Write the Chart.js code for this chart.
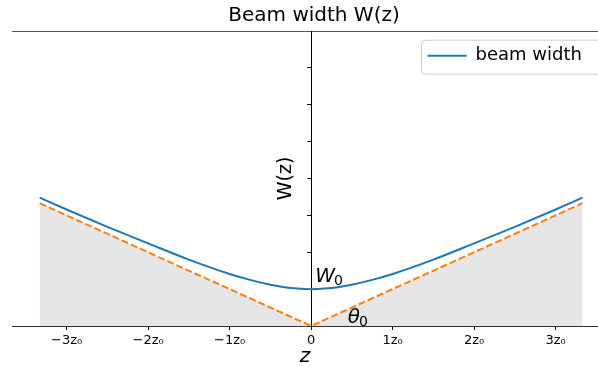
<!DOCTYPE html>
<html>
<head>
<meta charset="utf-8">
<script src="https://cdn.jsdelivr.net/npm/chart.js@4.4.1/dist/chart.umd.min.js"></script>
<style>
  html, body { margin: 0; padding: 0; background: #fff; }
</style>
</head>
<body>
<canvas id="chart" width="598" height="367"></canvas>
<script>
// z in units of z0, W in units of W0
const zBeam = [-3.33, -3, -2.5, -2, -1.5, -1, -0.75, -0.5, -0.25, 0, 0.25, 0.5, 0.75, 1, 1.5, 2, 2.5, 3, 3.33];
const wBeam = [3.48, 3.16, 2.69, 2.24, 1.8, 1.41, 1.25, 1.12, 1.03, 1.0, 1.03, 1.12, 1.25, 1.41, 1.8, 2.24, 2.69, 3.16, 3.48];
// dashed asymptote
const zAsym = [-3.33, 0, 3.33];
const wAsym = [3.33, 0, 3.33];

const xTicks = [-3, -2, -1, 0, 1, 2, 3];
const xTickLabels = ["−3z₀", "−2z₀", "−1z₀", "0", "1z₀", "2z₀", "3z₀"];

// text labels inside the plot
const annoX = [0.05, 0.45];
const annoY = [1.2, 0.09];
const annoMain = ["W", "θ"];
const annoSub = ["0", "0"];

Chart.defaults.font.family = "'DejaVu Sans', sans-serif";
Chart.defaults.color = "#000";

// y axis sits on z = 0, legend goes inside the plot at top right
const placeParts = {
  id: "placeParts",
  afterLayout(chart) {
    const x0 = chart.scales.x.getPixelForValue(0);
    const ys = chart.scales.y;
    ys.right = x0;
    ys.left = x0 - 36.5;
    ys.width = 36.5;

    const lg = chart.legend;
    lg.left = chart.width - 180.5;
    lg.top = chart.chartArea.top + 5.7;
    lg.right = lg.left + lg.width;
    lg.bottom = lg.top + lg.height;
  },
  beforeDraw(chart) {
    const lg = chart.legend;
    const ctx = chart.ctx;
    ctx.save();
    ctx.beginPath();
    ctx.roundRect(lg.left + 4, lg.top + 3.5, 200, 34, 4);
    ctx.fillStyle = "rgba(255,255,255,0.8)";
    ctx.fill();
    ctx.strokeStyle = "#cccccc";
    ctx.lineWidth = 1;
    ctx.stroke();
    ctx.restore();
  },
  afterDatasetsDraw(chart) {
    const ctx = chart.ctx;
    const xs = chart.scales.x;
    const ys = chart.scales.y;
    ctx.save();
    ctx.fillStyle = "#000";
    ctx.textAlign = "left";
    ctx.textBaseline = "alphabetic";
    for (let i = 0; i < annoMain.length; i++) {
      const px = xs.getPixelForValue(annoX[i]);
      const py = ys.getPixelForValue(annoY[i]);
      ctx.font = "italic 20px 'DejaVu Sans'";
      ctx.fillText(annoMain[i], px, py);
      const w = ctx.measureText(annoMain[i]).width;
      ctx.font = "14px 'DejaVu Sans'";
      ctx.fillText(annoSub[i], px + w - 1, py + 3.5);
    }
    ctx.restore();
  }
};

const config = {
  type: "line",
  data: {
    datasets: [
      {
        label: "beam width",
        data: zBeam.map((z, i) => ({ x: z, y: wBeam[i] })),
        borderColor: "#1f77b4",
        backgroundColor: "#1f77b4",
        borderWidth: 2,
        pointRadius: 0,
        cubicInterpolationMode: "monotone",
        fill: false
      },
      {
        label: "asymptote",
        data: zAsym.map((z, i) => ({ x: z, y: wAsym[i] })),
        borderColor: "#ff7f0e",
        backgroundColor: "#e6e6e6",
        borderWidth: 2,
        borderDash: [7, 3],
        pointRadius: 0,
        tension: 0,
        fill: "origin"
      }
    ]
  },
  options: {
    responsive: false,
    animation: false,
    devicePixelRatio: 1,
    events: [],
    layout: {
      padding: { left: 12, right: -18, top: 0, bottom: 0 },
      autoPadding: false
    },
    plugins: {
      title: {
        display: true,
        text: "Beam width W(z)",
        font: { size: 20, weight: "normal" },
        color: "#000",
        padding: { top: 4, bottom: 3 }
      },
      legend: {
        position: "chartArea",
        align: "start",
        labels: {
          filter: (item) => item.datasetIndex === 0,
          usePointStyle: true,
          pointStyle: "line",
          pointStyleWidth: 39,
          boxHeight: 18,
          font: { size: 18 },
          color: "#000",
          padding: 10
        }
      },
      tooltip: { enabled: false }
    },
    scales: {
      x: {
        type: "linear",
        position: "bottom",
        min: -3.67,
        max: 3.52,
        afterBuildTicks: (s) => { s.ticks = xTicks.map((v) => ({ value: v })); },
        afterFit: (s) => { s.height = 41; },
        ticks: {
          callback: (v, i) => xTickLabels[i],
          font: { size: 13 },
          color: "#000",
          padding: 3,
          maxRotation: 0,
          autoSkip: false
        },
        grid: { drawOnChartArea: false, tickLength: 4, color: "#000", lineWidth: 1 },
        border: { color: "#333", width: 1 },
        title: { display: true, text: "z", font: { size: 20, style: "italic" }, color: "#000", padding: { top: 0, bottom: -1.5 } }
      },
      xTop: {
        type: "linear",
        position: "top",
        min: -3.67,
        max: 3.52,
        afterFit: (s) => { s.height = 0; },
        ticks: { display: false },
        grid: { display: false, drawTicks: false },
        border: { color: "#555", width: 1 }
      },
      y: {
        type: "linear",
        position: "left",
        min: 0,
        max: 8,
        afterFit: (s) => { s.width = 0; },
        ticks: { display: false, stepSize: 1 },
        grid: { drawOnChartArea: false, tickLength: 4, color: "#000", lineWidth: 1 },
        border: { color: "#000", width: 1 },
        title: { display: true, text: "W(z)", font: { size: 19 }, color: "#000", padding: 0 }
      }
    }
  },
  plugins: [placeParts]
};

new Chart(document.getElementById("chart"), config);
</script>
</body>
</html>
